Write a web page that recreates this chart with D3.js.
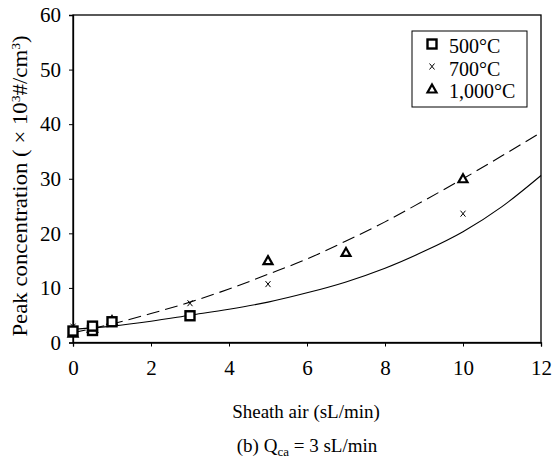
<!DOCTYPE html>
<html>
<head>
<meta charset="utf-8">
<script src="https://cdn.jsdelivr.net/npm/d3@7"></script>
<style>
  body { margin: 0; background: #fff; }
  svg { display: block; font-family: "Liberation Serif", "Times New Roman", serif; }
</style>
</head>
<body>
<svg id="chart" width="559" height="464"></svg>
<script>
// measured points (sheath air sL/min, peak conc x10^3 #/cm3)
var s500x = [0, 0.5, 0.5, 1, 3];
var s500y = [2.1, 2.2, 3.0, 3.8, 4.9];
var s700x = [0, 0.5, 1, 3, 5, 10];
var s700y = [2.9, 2.9, 4.0, 7.2, 10.7, 23.6];
var s1000x = [0, 0.5, 1, 5, 7, 10];
var s1000y = [1.7, 2.6, 4.0, 15.0, 16.5, 30.0];

// fitted curves
var fitX = [0, 1, 2, 3, 4, 5, 6, 7, 8, 9, 10, 11, 12];
var solidY = [2.4, 3.0, 3.9, 5.0, 6.1, 7.4, 9.1, 11.1, 13.6, 16.7, 20.3, 24.9, 30.6];
var dashY = [1.8, 3.4, 5.3, 7.4, 9.8, 12.5, 15.3, 18.6, 22.1, 26.0, 30.0, 34.2, 38.5];

var xTicks = [0, 2, 4, 6, 8, 10, 12];
var yTicks = [0, 10, 20, 30, 40, 50, 60];

const svg = d3.select('#chart');
const x = d3.scaleLinear().domain([0, 12]).range([73, 541]);
const y = d3.scaleLinear().domain([0, 60]).range([342.5, 15]);

// frame
svg.append('rect')
    .attr('x', x(0)).attr('y', y(60))
    .attr('width', x(12) - x(0)).attr('height', y(0) - y(60))
    .style('fill', 'none').style('stroke', 'black').style('stroke-width', 1.3);

const xAxis = svg.append('g')
    .attr('transform', 'translate(0,' + y(0) + ')')
    .call(d3.axisBottom(x).tickValues(xTicks).tickSize(4).tickPadding(14).tickFormat(d3.format('d')));
const yAxis = svg.append('g')
    .attr('transform', 'translate(' + x(0) + ',0)')
    .call(d3.axisLeft(y).tickValues(yTicks).tickSize(4).tickPadding(8).tickFormat(d3.format('d')));
[xAxis, yAxis].forEach(function (g) {
    g.select('.domain').style('stroke-width', 1.3);
    g.selectAll('text').style('font-size', '21px').style('font-family', '"Liberation Serif", serif').attr('fill', 'black');
});

// curves
const line = d3.line().x(function (d) { return x(d[0]); }).y(function (d) { return y(d[1]); }).curve(d3.curveMonotoneX);
svg.append('path')
    .attr('d', line(d3.zip(fitX, solidY)))
    .style('fill', 'none').style('stroke', 'black').style('stroke-width', 1.1);
svg.append('path')
    .attr('d', line(d3.zip(fitX, dashY)))
    .style('fill', 'none').style('stroke', 'black').style('stroke-width', 1.1)
    .style('stroke-dasharray', '13,6');

// markers
function drawX(g, cx, cy) {
    g.append('path')
        .attr('d', 'M' + (cx - 2.5) + ',' + (cy - 3) + 'L' + (cx + 2.5) + ',' + (cy + 3) +
                   'M' + (cx + 2.5) + ',' + (cy - 3) + 'L' + (cx - 2.5) + ',' + (cy + 3))
        .style('stroke', 'black').style('stroke-width', 1);
}
function drawTri(g, cx, cy) {
    g.append('path')
        .attr('d', 'M' + cx + ',' + (cy - 4.5) + 'L' + (cx + 4.5) + ',' + (cy + 3.5) + 'L' + (cx - 4.5) + ',' + (cy + 3.5) + 'Z')
        .style('fill', 'white').style('stroke', 'black').style('stroke-width', 2.2);
}
function drawSq(g, cx, cy) {
    g.append('rect')
        .attr('x', cx - 4.5).attr('y', cy - 4.5).attr('width', 9).attr('height', 9)
        .style('fill', 'white').style('stroke', 'black').style('stroke-width', 2.4);
}

const marks = svg.append('g');
d3.zip(s700x, s700y).forEach(function (p) { drawX(marks, x(p[0]), y(p[1])); });
d3.zip(s1000x, s1000y).forEach(function (p) { drawTri(marks, x(p[0]), y(p[1])); });
d3.zip(s500x, s500y).forEach(function (p) { drawSq(marks, x(p[0]), y(p[1])); });

// legend
const leg = svg.append('g');
leg.append('rect').attr('x', 412).attr('y', 31).attr('width', 115).attr('height', 76)
    .style('fill', 'white').style('stroke', 'black').style('stroke-width', 1);
var legLabels = ['500\u00B0C', '700\u00B0C', '1,000\u00B0C'];
var legDraw = [drawSq, drawX, drawTri];
legLabels.forEach(function (t, i) {
    var cy = 44 + i * 22.5;
    legDraw[i](leg, 432, cy);
    leg.append('text').attr('x', 449).attr('y', cy + 9).text(t)
        .style('font-size', '20px');
});

// axis titles
svg.append('text').attr('x', 306).attr('y', 418).attr('text-anchor', 'middle')
    .style('font-size', '19px').text('Sheath air (sL/min)');

const cap = svg.append('text').attr('x', 307).attr('y', 452).attr('text-anchor', 'middle')
    .style('font-size', '19px');
cap.append('tspan').text('(b) Q');
cap.append('tspan').attr('dy', 4).style('font-size', '13px').text('ca');
cap.append('tspan').attr('dy', -4).text(' = 3 sL/min');

const yl = svg.append('text')
    .attr('transform', 'translate(27,186) rotate(-90) scale(1.14,1)')
    .attr('text-anchor', 'middle')
    .style('font-size', '20px');
yl.append('tspan').text('Peak concentration ( \u00D7 10');
yl.append('tspan').attr('dy', -7).style('font-size', '12px').text('3');
yl.append('tspan').attr('dy', 7).text('#/cm');
yl.append('tspan').attr('dy', -7).style('font-size', '12px').text('3');
yl.append('tspan').attr('dy', 7).text(')');
</script>
</body>
</html>
